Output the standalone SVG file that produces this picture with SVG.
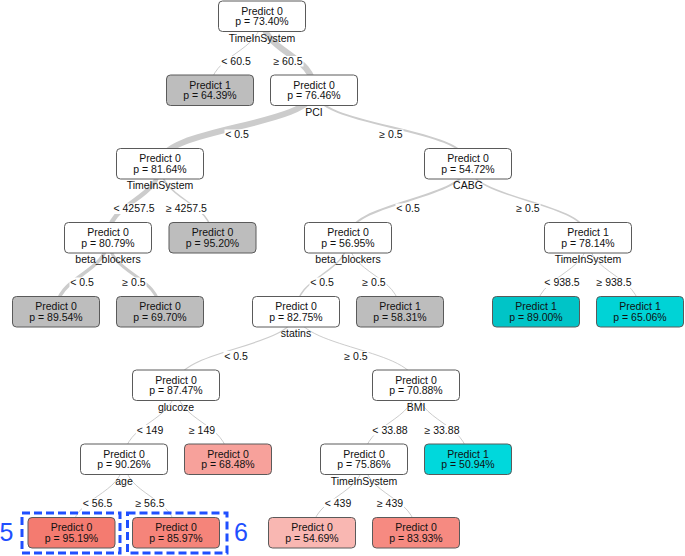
<svg xmlns="http://www.w3.org/2000/svg" width="685" height="556" viewBox="0 0 685 556">
<style>
  text { font-family: "Liberation Sans", Arial, Helvetica, sans-serif; font-size: 10.5px; fill: #111; text-anchor: middle; }
  .box { stroke: #5a5a5a; stroke-width: 1; }
  .w { fill: #ffffff; }
  .g { fill: #bdbdbd; }
  .c1 { fill: #00c4c7; }
  .c2 { fill: #00d3d6; }
  .c3 { fill: #00d8dc; }
  .r1 { fill: #f47b70; }
  .r2 { fill: #f5847a; }
  .r3 { fill: #f68a81; }
  .r4 { fill: #f7a19b; }
  .r5 { fill: #f9b7b2; }
  .e { fill: none; stroke: #cccccc; }
  .lb { fill: #ffffff; }
  .hl { fill: none; stroke: #1f4fff; stroke-width: 3; stroke-dasharray: 8 4; }
  .num { font-size: 25px; fill: #1f4fff; text-anchor: start; }
</style>
<defs>
  <rect id="nb" width="87" height="30.5" rx="4"/>
</defs>

<g id="connectors">
  <path class="e" stroke-width="1" d="M262 16.25 C262 53.25 210 53.25 210 90.25"/>
  <path class="e" stroke-width="6" d="M262 16.25 C262 53.25 314 53.25 314 90.25"/>
  <path class="e" stroke-width="6" d="M314 90.25 C314 127 160 127 160 163.75"/>
  <path class="e" stroke-width="2" d="M314 90.25 C314 127 468 127 468 163.75"/>
  <path class="e" stroke-width="4.5" d="M160 163.75 C160 200.75 108 200.75 108 237.75"/>
  <path class="e" stroke-width="1.5" d="M160 163.75 C160 200.75 212.5 200.75 212.5 237.75"/>
  <path class="e" stroke-width="2" d="M468 163.75 C468 200.75 348 200.75 348 237.75"/>
  <path class="e" stroke-width="1.5" d="M468 163.75 C468 200.75 588 200.75 588 237.75"/>
  <path class="e" stroke-width="3.5" d="M108 237.75 C108 274.75 56 274.75 56 311.75"/>
  <path class="e" stroke-width="3" d="M108 237.75 C108 274.75 160 274.75 160 311.75"/>
  <path class="e" stroke-width="1.5" d="M348 237.75 C348 274.75 296 274.75 296 311.75"/>
  <path class="e" stroke-width="1" d="M348 237.75 C348 274.75 400 274.75 400 311.75"/>
  <path class="e" stroke-width="1" d="M588 237.75 C588 274.75 536 274.75 536 311.75"/>
  <path class="e" stroke-width="1" d="M588 237.75 C588 274.75 640 274.75 640 311.75"/>
  <path class="e" stroke-width="1.2" d="M296 311.75 C296 348.5 176 348.5 176 385.25"/>
  <path class="e" stroke-width="1" d="M296 311.75 C296 348.5 416 348.5 416 385.25"/>
  <path class="e" stroke-width="1" d="M176 385.25 C176 422.25 124 422.25 124 459.25"/>
  <path class="e" stroke-width="1" d="M176 385.25 C176 422.25 228 422.25 228 459.25"/>
  <path class="e" stroke-width="1" d="M416 385.25 C416 422.25 364 422.25 364 459.25"/>
  <path class="e" stroke-width="1" d="M416 385.25 C416 422.25 468 422.25 468 459.25"/>
  <path class="e" stroke-width="1" d="M124 459.25 C124 496 71.5 496 71.5 532.75"/>
  <path class="e" stroke-width="1" d="M124 459.25 C124 496 176 496 176 532.75"/>
  <path class="e" stroke-width="1" d="M364 459.25 C364 496 312 496 312 532.75"/>
  <path class="e" stroke-width="1" d="M364 459.25 C364 496 416 496 416 532.75"/>
</g>

<g id="edge-labels">
  <rect class="lb" x="220.5" y="56" width="31" height="10.5"/><text x="236" y="64.5">&lt; 60.5</text>
  <rect class="lb" x="272.5" y="56" width="31" height="10.5"/><text x="288" y="64.5">≥ 60.5</text>
  <rect class="lb" x="224.5" y="129.5" width="25" height="10.5"/><text x="237" y="138">&lt; 0.5</text>
  <rect class="lb" x="378.5" y="129.5" width="25" height="10.5"/><text x="391" y="138">≥ 0.5</text>
  <rect class="lb" x="112.5" y="203.5" width="43" height="10.5"/><text x="134" y="212">&lt; 4257.5</text>
  <rect class="lb" x="165" y="203.5" width="43" height="10.5"/><text x="186.5" y="212">≥ 4257.5</text>
  <rect class="lb" x="395.5" y="203.5" width="25" height="10.5"/><text x="408" y="212">&lt; 0.5</text>
  <rect class="lb" x="515.5" y="203.5" width="25" height="10.5"/><text x="528" y="212">≥ 0.5</text>
  <rect class="lb" x="69.5" y="277.5" width="25" height="10.5"/><text x="82" y="286">&lt; 0.5</text>
  <rect class="lb" x="121.5" y="277.5" width="25" height="10.5"/><text x="134" y="286">≥ 0.5</text>
  <rect class="lb" x="309.5" y="277.5" width="25" height="10.5"/><text x="322" y="286">&lt; 0.5</text>
  <rect class="lb" x="361.5" y="277.5" width="25" height="10.5"/><text x="374" y="286">≥ 0.5</text>
  <rect class="lb" x="543.5" y="277.5" width="37" height="10.5"/><text x="562" y="286">&lt; 938.5</text>
  <rect class="lb" x="595.5" y="277.5" width="37" height="10.5"/><text x="614" y="286">≥ 938.5</text>
  <rect class="lb" x="223.5" y="351" width="25" height="10.5"/><text x="236" y="359.5">&lt; 0.5</text>
  <rect class="lb" x="343.5" y="351" width="25" height="10.5"/><text x="356" y="359.5">≥ 0.5</text>
  <rect class="lb" x="136" y="425" width="28" height="10.5"/><text x="150" y="433.5">&lt; 149</text>
  <rect class="lb" x="188" y="425" width="28" height="10.5"/><text x="202" y="433.5">≥ 149</text>
  <rect class="lb" x="371.5" y="425" width="37" height="10.5"/><text x="390" y="433.5">&lt; 33.88</text>
  <rect class="lb" x="423.5" y="425" width="37" height="10.5"/><text x="442" y="433.5">≥ 33.88</text>
  <rect class="lb" x="82" y="498.5" width="31" height="10.5"/><text x="97.5" y="507">&lt; 56.5</text>
  <rect class="lb" x="134.5" y="498.5" width="31" height="10.5"/><text x="150" y="507">≥ 56.5</text>
  <rect class="lb" x="324" y="498.5" width="28" height="10.5"/><text x="338" y="507">&lt; 439</text>
  <rect class="lb" x="376" y="498.5" width="28" height="10.5"/><text x="390" y="507">≥ 439</text>
</g>

<g id="n0"><use href="#nb" class="box w" x="218.5" y="1"/><text x="262" y="14.5">Predict 0</text><text x="262" y="25">p = 73.40%</text><text x="262" y="41.5">TimeInSystem</text></g>
<g id="n1"><use href="#nb" class="box g" x="166.5" y="75"/><text x="210" y="88.5">Predict 1</text><text x="210" y="99">p = 64.39%</text></g>
<g id="n2"><use href="#nb" class="box w" x="270.5" y="75"/><text x="314" y="88.5">Predict 0</text><text x="314" y="99">p = 76.46%</text><text x="314" y="115.5">PCI</text></g>
<g id="n3"><use href="#nb" class="box w" x="116.5" y="148.5"/><text x="160" y="162">Predict 0</text><text x="160" y="172.5">p = 81.64%</text><text x="160" y="189">TimeInSystem</text></g>
<g id="n4"><use href="#nb" class="box w" x="424.5" y="148.5"/><text x="468" y="162">Predict 0</text><text x="468" y="172.5">p = 54.72%</text><text x="468" y="189">CABG</text></g>
<g id="n5"><use href="#nb" class="box w" x="64.5" y="222.5"/><text x="108" y="236">Predict 0</text><text x="108" y="246.5">p = 80.79%</text><text x="108" y="263">beta_blockers</text></g>
<g id="n6"><use href="#nb" class="box g" x="169" y="222.5"/><text x="212.5" y="236">Predict 0</text><text x="212.5" y="246.5">p = 95.20%</text></g>
<g id="n7"><use href="#nb" class="box w" x="304.5" y="222.5"/><text x="348" y="236">Predict 0</text><text x="348" y="246.5">p = 56.95%</text><text x="348" y="263">beta_blockers</text></g>
<g id="n8"><use href="#nb" class="box w" x="544.5" y="222.5"/><text x="588" y="236">Predict 1</text><text x="588" y="246.5">p = 78.14%</text><text x="588" y="263">TimeInSystem</text></g>
<g id="n9"><use href="#nb" class="box g" x="12.5" y="296.5"/><text x="56" y="310">Predict 0</text><text x="56" y="320.5">p = 89.54%</text></g>
<g id="n10"><use href="#nb" class="box g" x="116.5" y="296.5"/><text x="160" y="310">Predict 0</text><text x="160" y="320.5">p = 69.70%</text></g>
<g id="n11"><use href="#nb" class="box w" x="252.5" y="296.5"/><text x="296" y="310">Predict 0</text><text x="296" y="320.5">p = 82.75%</text><text x="296" y="337">statins</text></g>
<g id="n12"><use href="#nb" class="box g" x="356.5" y="296.5"/><text x="400" y="310">Predict 1</text><text x="400" y="320.5">p = 58.31%</text></g>
<g id="n13"><use href="#nb" class="box c1" x="492.5" y="296.5"/><text x="536" y="310">Predict 1</text><text x="536" y="320.5">p = 89.00%</text></g>
<g id="n14"><use href="#nb" class="box c2" x="596.5" y="296.5"/><text x="640" y="310">Predict 1</text><text x="640" y="320.5">p = 65.06%</text></g>
<g id="n15"><use href="#nb" class="box w" x="132.5" y="370"/><text x="176" y="383.5">Predict 0</text><text x="176" y="394">p = 87.47%</text><text x="176" y="410.5">glucoze</text></g>
<g id="n16"><use href="#nb" class="box w" x="372.5" y="370"/><text x="416" y="383.5">Predict 0</text><text x="416" y="394">p = 70.88%</text><text x="416" y="410.5">BMI</text></g>
<g id="n17"><use href="#nb" class="box w" x="80.5" y="444"/><text x="124" y="457.5">Predict 0</text><text x="124" y="468">p = 90.26%</text><text x="124" y="484.5">age</text></g>
<g id="n18"><use href="#nb" class="box r4" x="184.5" y="444"/><text x="228" y="457.5">Predict 0</text><text x="228" y="468">p = 68.48%</text></g>
<g id="n19"><use href="#nb" class="box w" x="320.5" y="444"/><text x="364" y="457.5">Predict 0</text><text x="364" y="468">p = 75.86%</text><text x="364" y="484.5">TimeInSystem</text></g>
<g id="n20"><use href="#nb" class="box c3" x="424.5" y="444"/><text x="468" y="457.5">Predict 1</text><text x="468" y="468">p = 50.94%</text></g>
<g id="n21"><use href="#nb" class="box r1" x="28" y="517.5"/><text x="71.5" y="531">Predict 0</text><text x="71.5" y="541.5">p = 95.19%</text></g>
<g id="n22"><use href="#nb" class="box r2" x="132.5" y="517.5"/><text x="176" y="531">Predict 0</text><text x="176" y="541.5">p = 85.97%</text></g>
<g id="n23"><use href="#nb" class="box r5" x="268.5" y="517.5"/><text x="312" y="531">Predict 0</text><text x="312" y="541.5">p = 54.69%</text></g>
<g id="n24"><use href="#nb" class="box r3" x="372.5" y="517.5"/><text x="416" y="531">Predict 0</text><text x="416" y="541.5">p = 83.93%</text></g>

<g id="highlight-5">
  <rect class="hl" x="22" y="513" width="98" height="40"/>
  <text class="num" x="-0.5" y="540.5">5</text>
</g>
<g id="highlight-6">
  <rect class="hl" x="127.5" y="513" width="99.5" height="40"/>
  <text class="num" x="234" y="540.5">6</text>
</g>
</svg>
